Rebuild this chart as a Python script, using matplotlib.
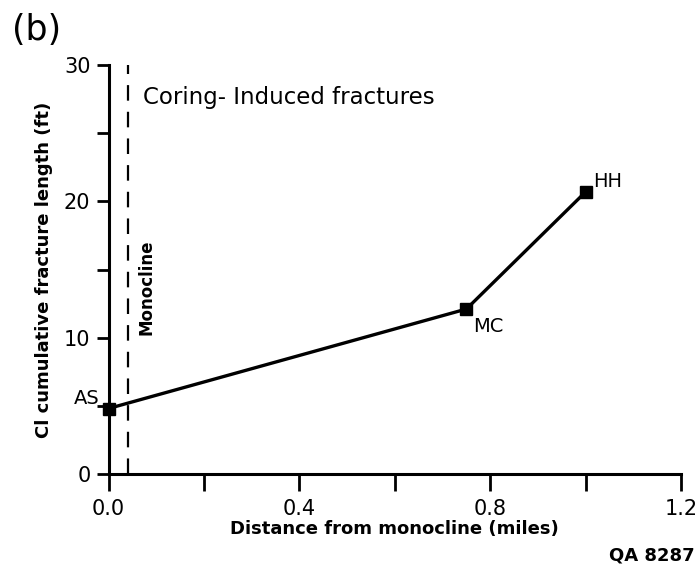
import matplotlib
matplotlib.use("Agg")
import matplotlib.pyplot as plt
from matplotlib.ticker import MultipleLocator

# data
sites = ["AS", "MC", "HH"]
distance = [0.0, 0.75, 1.0]          # miles from monocline
frac_len = [4.8, 12.1, 20.7]         # CI cumulative fracture length (ft)
monocline_x = 0.04

plt.rcParams['font.family'] = ['DejaVu Sans']

fig = plt.figure(figsize=(7.0, 5.71), dpi=100)
ax = fig.add_axes([0.155, 0.170, 0.818, 0.716])

ax.plot(distance, frac_len, color='black', lw=2.4, marker='s', ms=9,
        markerfacecolor='black', zorder=3, clip_on=False)
ax.axvline(monocline_x, color='black', lw=1.6, dashes=(7, 5))

ax.set_xlim(0, 1.2)
ax.set_ylim(0, 30)
ax.xaxis.set_minor_locator(MultipleLocator(0.2))
ax.yaxis.set_minor_locator(MultipleLocator(5))
ax.set_xticks([0.0, 0.4, 0.8, 1.2])
ax.set_xticklabels(['0.0', '0.4', '0.8', '1.2'])
ax.set_yticks([0, 10, 20, 30])
ax.set_yticklabels(['0', '10', '20', '30'])

for s in ['top', 'right']:
    ax.spines[s].set_visible(False)
for s in ['left', 'bottom']:
    ax.spines[s].set_linewidth(2.2)

ax.tick_params(axis='x', which='both', direction='out', length=12, width=2, labelsize=15, pad=6)
ax.tick_params(axis='y', which='both', direction='out', length=9, width=2, labelsize=15, pad=4)

ax.set_xlabel('Distance from monocline (miles)', fontsize=13, fontweight='bold', labelpad=1)
ax.set_ylabel('Cl cumulative fracture length (ft)', fontsize=13, fontweight='bold', labelpad=8)

# site labels
offsets = {"AS": (-0.072, 0.75), "MC": (0.015, -1.25), "HH": (0.015, 0.75)}
for name, x, y in zip(sites, distance, frac_len):
    dx, dy = offsets[name]
    ax.text(x + dx, y + dy, name, fontsize=14, ha='left', va='center')

ax.text(monocline_x + 0.032, 27.6, 'Coring- Induced fractures', fontsize=16.5, ha='left', va='center')
ax.text(monocline_x + 0.04, 13.7, 'Monocline', fontsize=12, fontweight='bold',
        rotation=90, ha='center', va='center')

fig.text(0.017, 0.947, '(b)', fontsize=25, ha='left', va='center')
fig.text(0.993, 0.027, 'QA 8287', fontsize=13, fontweight='bold', ha='right', va='center')

fig.savefig('out.png', dpi=100)
